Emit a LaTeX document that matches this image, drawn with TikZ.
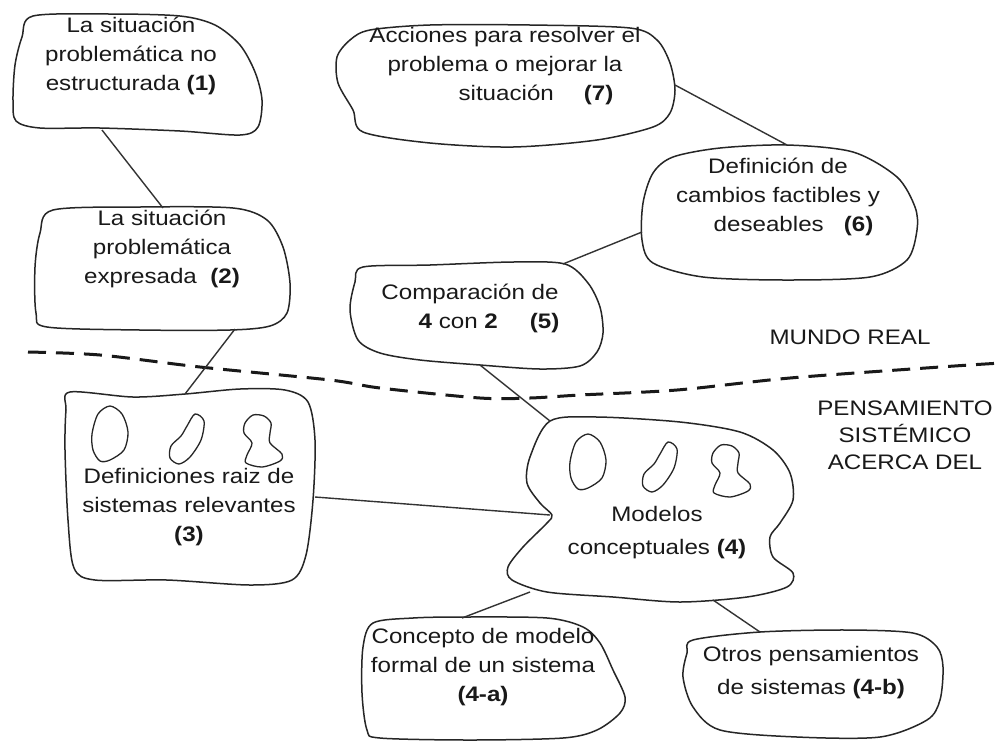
\documentclass[tikz,border=0pt]{standalone}
\usepackage{fontspec}
\setmainfont{Liberation Sans}[FakeStretch=1.15]
\begin{document}
\begin{tikzpicture}[x=1pt,y=-1pt,
  blob/.style={draw=black!85, line width=1.5pt, line join=round},
  small/.style={draw=black!85, line width=1.3pt},
  link/.style={draw=black!80, line width=1.4pt},
  txt/.style={align=center, font=\fontsize{21}{29}\selectfont, inner sep=0pt, text=black!90},
  divider/.style={draw=black!90, line width=3pt, dash pattern=on 18pt off 10pt},
  ovalshape/.pic={\draw[small] plot[smooth cycle] coordinates {(0,-28) (12,-20) (18,-2) (14,16) (0,26) (-10,27) (-17,16) (-18,0) (-12,-20)};},
  beanshape/.pic={\draw[small] plot[smooth cycle] coordinates {(8,-26) (17,-19) (14,0) (3,17) (-8,24) (-17,18) (-16,6) (-6,-4) (0,-14)};},
  peanutshape/.pic={\draw[small] plot[smooth cycle] coordinates {(-9,-26) (-17,-18) (-18,-8) (-10,2) (-15,14) (-16,22) (0,26) (18,20) (20,13) (8,2) (8,-8) (9,-18) (2,-25)};}
]
\useasboundingbox (0,0) rectangle (1001,740);
\fill[white] (0,0) rectangle (1001,740);

% dashed divider
\draw[divider] plot[smooth] coordinates {(28,352) (100,355) (200,367) (330,380) (380,388) (480,398) (530,398) (580,395) (677,390) (790,378) (940,367) (1001,363)};

% blobs
\draw[blob] plot[smooth cycle] coordinates {(33,16) (110,14) (180,16) (215,25) (240,45) (255,72) (262,100) (258,127) (240,135) (180,131) (100,128) (40,128) (16,121) (13,100) (15,65) (22,37)};
\draw[blob] plot[smooth cycle] coordinates {(53,210) (140,207) (233,208) (267,220) (283,247) (290,283) (287,313) (270,326) (230,330) (140,330) (47,327) (36,313) (35,267) (40,233)};
\draw[blob] plot[smooth cycle] coordinates {(70,392) (133,397) (185,394) (240,389) (285,390) (308,402) (315,440) (313,500) (306,555) (292,580) (250,585) (167,580) (95,580) (74,568) (68,520) (65,450) (66,410)};
\draw[blob] plot[smooth cycle] coordinates {(550,421) (597,417) (680,422) (740,432) (773,450) (790,473) (793,500) (780,523) (770,537) (773,557) (793,573) (787,587) (747,597) (680,602) (613,597) (547,592) (512,580) (508,567) (523,547) (547,523) (552,515) (540,503) (527,483) (530,457)};
\draw[blob] plot[smooth cycle] coordinates {(373,623) (413,618) (463,617) (547,618) (583,627) (600,643) (613,670) (625,697) (620,713) (597,730) (563,738) (470,740) (380,738) (367,730) (362,693) (363,647)};
\draw[blob] plot[smooth cycle] coordinates {(693,640) (760,632) (847,630) (913,633) (937,647) (943,667) (940,700) (927,720) (880,737) (797,737) (720,730) (693,707) (683,677) (687,653)};
\draw[blob] plot[smooth cycle] coordinates {(363,267) (430,265) (513,262) (565,264) (588,283) (600,307) (603,333) (597,352) (580,366) (540,369) (480,365) (420,360) (380,353) (358,340) (350,310) (355,282)};
\draw[blob] plot[smooth cycle] coordinates {(673,157) (720,148) (787,145) (853,152) (897,177) (915,207) (917,230) (907,260) (870,277) (787,280) (703,277) (653,263) (642,240) (643,203) (653,173)};
\draw[blob] plot[smooth cycle] coordinates {(370,30) (430,25) (530,25) (630,28) (657,40) (670,63) (675,90) (670,113) (653,127) (597,140) (513,147) (430,143) (363,132) (353,110) (338,83) (337,57) (350,40)};

% small shapes
\pic at (110,434) {ovalshape};
\pic at (187,440) {beanshape};
\pic at (262,441) {peanutshape};
\pic at (588,462) {ovalshape};
\pic at (660,468) {beanshape};
\pic at (730,471) {peanutshape};

% texts
\node[txt] (t1) at (131,56) {La situación\\problemática no\\estructurada \textbf{(1)}};
\node[txt] (t2) at (162,249) {La situación\\problemática\\expresada\ \ \textbf{(2)}};
\node[txt] (t3) at (189,507) {Definiciones raiz de\\sistemas relevantes\\\textbf{(3)}};
\node[txt] (t4) at (657,533) {Modelos\\[4pt]conceptuales \textbf{(4)}};
\node[txt] (t4a) at (483,667) {Concepto de modelo\\formal de un sistema\\\textbf{(4-a)}};
\node[txt] (t4b) at (811,673) {Otros pensamientos\\[4pt]de sistemas \textbf{(4-b)}};
\node[txt] (t5) at (470,308) {Comparación de\\\hspace*{38pt}\textbf{4} con \textbf{2}\hspace{32pt}\textbf{(5)}};
\node[txt] (t6) at (778,197) {Definición de\\cambios factibles y\\\hspace*{31pt}deseables\hspace{20pt}\textbf{(6)}};
\node[txt] (t7) at (505,66) {Acciones para resolver el\\problema o mejorar la\\\hspace*{62pt}situación\hspace{30pt}\textbf{(7)}};
\node[txt] (mr) at (850,337) {MUNDO REAL};
\node[txt, font=\fontsize{21}{27}\selectfont] (ps) at (905,435) {PENSAMIENTO\\SISTÉMICO\\ACERCA DEL};

% connector endpoints
\coordinate (a1) at (102,130); \coordinate (a2) at (163,208);
\coordinate (b2) at (235,329); \coordinate (b3) at (185,394);
\coordinate (c3) at (315,497); \coordinate (c4) at (550,515);
\coordinate (d5) at (480,365); \coordinate (d4) at (550,421);
\coordinate (e5) at (563,264); \coordinate (e6) at (642,232);
\coordinate (f7) at (675,85);  \coordinate (f6) at (787,145);
\coordinate (g4) at (530,592); \coordinate (g4a) at (462,618);
\coordinate (h4) at (713,600); \coordinate (h4b) at (760,632);

\draw[link] (a1) -- (a2);
\draw[link] (b2) -- (b3);
\draw[link] (c3) -- (c4);
\draw[link] (d5) -- (d4);
\draw[link] (e5) -- (e6);
\draw[link] (f7) -- (f6);
\draw[link] (g4) -- (g4a);
\draw[link] (h4) -- (h4b);
\end{tikzpicture}
\end{document}
